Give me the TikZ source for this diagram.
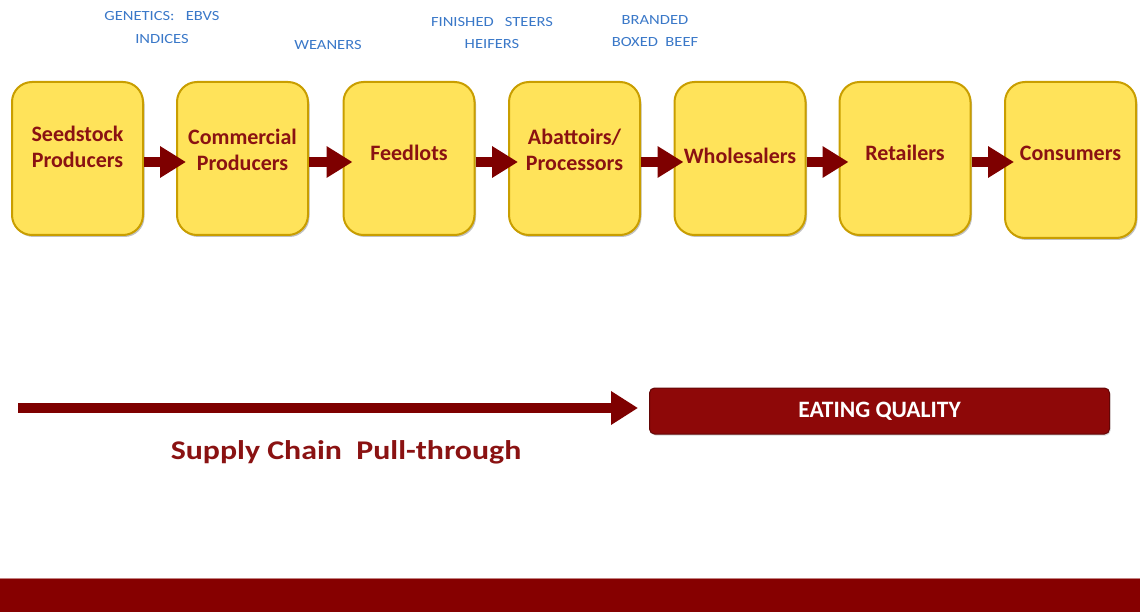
\documentclass[tikz,border=0pt]{standalone}
\usepackage{fontspec}
\setmainfont{Carlito}
\newfontfamily\widefont{Carlito}[FakeStretch=1.18]
\usetikzlibrary{arrows.meta,shadows}
\definecolor{boxfill}{HTML}{FFE35A}
\definecolor{boxline}{HTML}{C99E00}
\definecolor{maroon}{HTML}{8A1212}
\definecolor{arrowc}{HTML}{7E0000}
\definecolor{lblue}{HTML}{3A78C8}
\definecolor{eqfill}{HTML}{8E0808}
\definecolor{barc}{HTML}{860000}
\tikzset{
  stagebox/.style={draw=boxline, line width=2pt, fill=boxfill, rounded corners=20pt,
    minimum width=131pt, minimum height=153pt, inner sep=0pt,
    drop shadow={shadow xshift=1.5pt, shadow yshift=-2pt, opacity=0.35, fill=black!70}},
  stagetext/.style={text=maroon, font=\fontsize{22}{26.5}\selectfont\bfseries, align=center, inner sep=0pt},
  flowarrow/.style={draw=arrowc, line width=10pt, -{Triangle[length=26pt,width=30pt]}},
  toplabel/.style={text=lblue, font=\widefont\fontsize{14}{22.5}\selectfont, align=center, inner sep=0pt},
}
\begin{document}
\begin{tikzpicture}[x=1pt,y=-1pt]
\useasboundingbox (0,0) rectangle (1140,612);
% boxes
\node[stagebox] (b1) at (77.5,158.5) {};
\node[stagebox] (b2) at (242.5,158.5) {};
\node[stagebox] (b3) at (409,158.5) {};
\node[stagebox] (b4) at (574.5,158.5) {};
\node[stagebox] (b5) at (740,158.5) {};
\node[stagebox] (b6) at (905,158.5) {};
\node[stagebox, minimum height=156pt] (b7) at (1070.5,160) {};
% texts
\node[stagetext] (t1) at ([yshift=11.5]b1.center) {Seedstock\\Producers};
\node[stagetext] (t2) at ([yshift=8.5]b2.center) {Commercial\\Producers};
\node[stagetext] (t3) at ([yshift=5.5]b3.center) {Feedlots};
\node[stagetext] (t4) at ([yshift=8.5]b4.center) {Abattoirs/\\Processors};
\node[stagetext] (t5) at ([yshift=2.5]b5.center) {Wholesalers};
\node[stagetext] (t6) at ([yshift=5.5]b6.center) {Retailers};
\node[stagetext] (t7) at ([yshift=7]b7.center) {Consumers};
% arrows
\foreach \a/\b in {b1/b2,b2/b3,b3/b4,b4/b5,b5/b6,b6/b7}
  \draw[flowarrow, shorten >=-10pt] ([yshift=-3.5]\a.east) -- ([yshift=-3.5]\b.west |- \a.east);
% top labels
\node[toplabel] (l1) at (162,27.5) {GENETICS:\ \ \ EBVS\\INDICES};
\node[toplabel] (l2) at (328,45) {WEANERS};
\node[toplabel] (l3) at (492,33) {FINISHED\ \ \ STEERS\\HEIFERS};
\node[toplabel] (l4) at (655,31) {BRANDED\\BOXED\ \ BEEF};
% eating quality bar
\node[draw=eqfill!70!black, line width=1pt, fill=eqfill, rounded corners=5pt,
  minimum width=460pt, minimum height=46pt, inner sep=0pt,
  text=white, font=\fontsize{23.5}{26}\selectfont\bfseries,
  drop shadow={shadow xshift=1pt, shadow yshift=-1.5pt, opacity=0.3}] (eq) at (879.5,411) {EATING QUALITY};
% long arrow
\coordinate (ls) at (18,408);
\draw[flowarrow, -{Triangle[length=27pt,width=32pt]}, shorten >=11pt] (ls) -- (eq.west |- ls);
\node[text=maroon, font=\widefont\fontsize{27}{30}\selectfont\bfseries, inner sep=0pt] (pull) at (346,452) {Supply Chain\ \ Pull-through};
% bottom bar
\fill[barc] (0,579) rectangle (1140,612);
\draw[barc!50!white, line width=0.8pt] (0,578.5) -- (1140,578.5);
\end{tikzpicture}
\end{document}
